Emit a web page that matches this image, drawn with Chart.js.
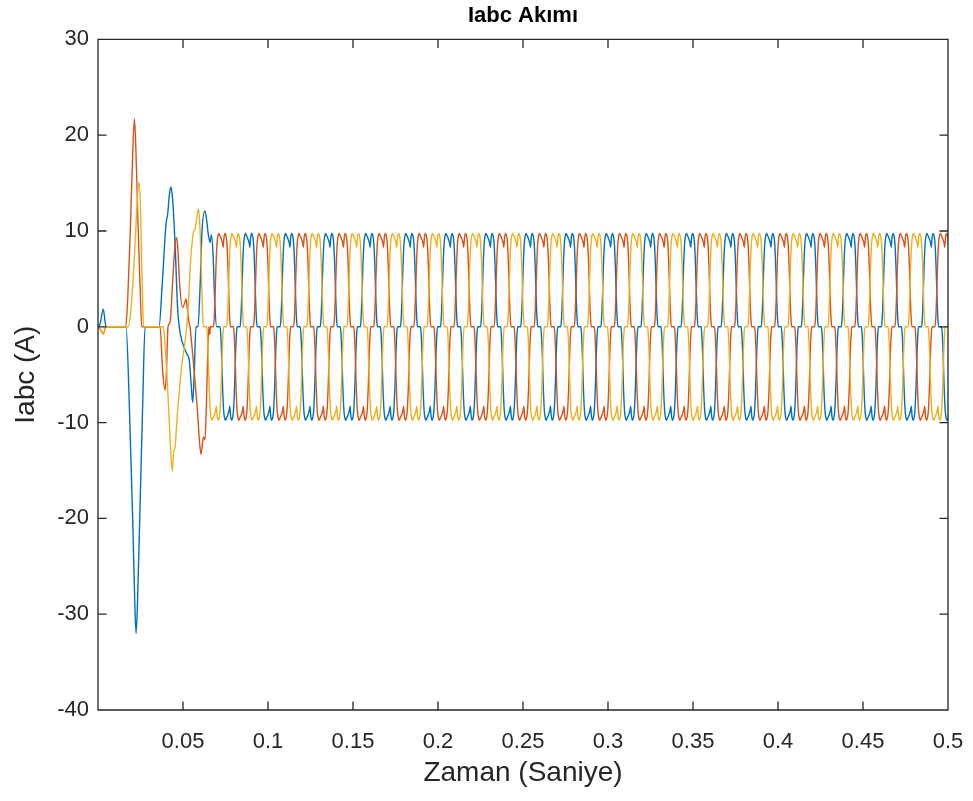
<!DOCTYPE html>
<html>
<head>
<meta charset="utf-8">
<script src="https://cdn.jsdelivr.net/npm/chart.js@4.4.1/dist/chart.umd.min.js"></script>
<style>
html,body{margin:0;padding:0;background:#ffffff;}
#wrap{width:973px;height:801px;position:relative;}
</style>
</head>
<body>
<div id="wrap"><canvas id="c" width="973" height="801"></canvas></div>
<script>
// ---------------- data ----------------
const xTickValues = [0.05, 0.1, 0.15, 0.2, 0.25, 0.3, 0.35, 0.4, 0.45, 0.5];
const yTickValues = [-40, -30, -20, -10, 0, 10, 20, 30];
const seriesNames = ['Ia', 'Ib', 'Ic'];

// start-up transient of each phase (time s, current A)
const blueT = [0, 0.0012, 0.0031, 0.0042, 0.0048, 0.0165, 0.0184, 0.0204, 0.0216, 0.0224, 0.0232, 0.0247, 0.0263, 0.0277,
  0.0359, 0.0378, 0.0400, 0.0410, 0.0420, 0.0429, 0.0438, 0.0447, 0.0457, 0.0468, 0.0478, 0.0494, 0.0522, 0.0537, 0.0548,
  0.0557, 0.0566, 0.0576, 0.0588, 0.0600, 0.0612, 0.0629, 0.0640, 0.0650, 0.0659, 0.0667, 0.0677, 0.0687, 0.0698];
const blueV = [0, 0.3, 1.85, 0.5, 0, 0, -8, -20, -28.5, -32, -29, -19, -8, 0,
  0, 4.5, 10.7, 11.8, 13.8, 14.6, 13.5, 11, 7, 2, 0, -1.5, -2.8, -3.5, -6,
  -7.9, -5, 0, 0, 4, 10, 12.1, 11, 9.5, 8.8, 9.6, 7.5, 2.5, 0];

const orangeT = [0, 0.0015, 0.0031, 0.0042, 0.0048, 0.0163, 0.0175, 0.0190, 0.0203, 0.0214, 0.0222, 0.0235, 0.0248, 0.0257,
  0.0365, 0.0380, 0.0394, 0.0402, 0.0412, 0.0424, 0.0440, 0.0453, 0.0463, 0.0470, 0.0480, 0.0498, 0.0510, 0.0518, 0.0525,
  0.0535, 0.0541, 0.0555, 0.0570, 0.0585, 0.0597, 0.0606, 0.0620, 0.0629, 0.0638, 0.0645, 0.0652];
const orangeV = [0, -0.3, -0.75, -0.2, 0, 0, 3, 10, 17.5, 21.7, 19, 11, 4, 0,
  0, -4.5, -6.6, -5, 0, 0.5, 5, 8.5, 9.3, 8, 4.5, 2.0, 2.5, 2.9, 2.0,
  0.5, 0, -2.5, -5.5, -8.8, -12, -13.3, -11.5, -11.8, -8, -3, 0];

const yellowT = [0, 0.0015, 0.0031, 0.0042, 0.0048, 0.0178, 0.0195, 0.0210, 0.0222, 0.0232, 0.0241, 0.0250, 0.0258, 0.0265, 0.0270,
  0.0384, 0.0395, 0.0410, 0.0425, 0.0437, 0.0445, 0.0453, 0.0467, 0.0492, 0.0522, 0.0530, 0.0545, 0.0561, 0.0571, 0.0582,
  0.0590, 0.0598, 0.0606, 0.0613, 0.0620];
const yellowV = [0, -0.3, -0.75, -0.2, 0, 0, 2, 6, 10, 13.5, 15.1, 12.5, 6, 1, 0,
  0, -2, -6.5, -12, -15.1, -13, -12.6, -9.1, -4.2, 0, 2, 7, 9.8, 10.2, 11.5,
  12.3, 11, 7, 2.5, 0];

// steady state: one measured current pulse (fraction of period from pulse centre, current A)
const period = 0.02358;
const pulseFrac = [-0.212, -0.195, -0.175, -0.150, -0.125, -0.100, -0.080, -0.050, -0.012, 0.015, 0.030, 0.050, 0.075, 0.100, 0.125, 0.150, 0.175, 0.195, 0.212];
const pulseVal  = [0, 0.8, 2.8, 6.2, 8.6, 9.5, 9.75, 9.5, 9.1, 8.7, 8.3, 9.3, 9.75, 9.5, 8.6, 6.2, 2.8, 0.8, 0];
// a positive pulse centre read for each phase, and where its steady state begins
const pulseCentre = [0.2065, 0.2144, 0.1986];
const steadyFrom = [0.0700, 0.0655, 0.0622];

// ---------------- build series ----------------
function buildSeries(tArr, vArr, centre, tStart) {
  const pts = tArr.map((t, i) => ({x: t, y: vArr[i]}));
  for (let k = -8; k <= 15; k++) {
    for (let h = 0; h < 2; h++) {
      const c = centre + k * period + h * period / 2;
      const s = h ? -1 : 1;
      pulseFrac.forEach((f, i) => {
        const t = c + f * period;
        if (t > tStart && t < 0.515) pts.push({x: t, y: s * pulseVal[i]});
      });
    }
  }
  pts.sort((a, b) => a.x - b.x);
  return pts;
}

const seriesData = [
  buildSeries(blueT, blueV, pulseCentre[0], steadyFrom[0]),
  buildSeries(orangeT, orangeV, pulseCentre[1], steadyFrom[1]),
  buildSeries(yellowT, yellowV, pulseCentre[2], steadyFrom[2])
];
const colors = ['#0072BD', '#D95319', '#EDB120'];

const FONT = "'Liberation Sans', Arial, Helvetica, sans-serif";
const AX = '#262626';

const boxPlugin = {
  id: 'matlabBox',
  afterDatasetsDraw(chart) {
    const {ctx, chartArea: {left, right, top, bottom}, scales: {x, y}} = chart;
    ctx.save();
    ctx.strokeStyle = AX;
    ctx.lineWidth = 1.3;
    ctx.beginPath();
    ctx.rect(left, top, right - left, bottom - top);
    const L = 8.5;
    xTickValues.forEach(v => {
      const px = x.getPixelForValue(v);
      ctx.moveTo(px, bottom); ctx.lineTo(px, bottom - L);
      ctx.moveTo(px, top); ctx.lineTo(px, top + L);
    });
    yTickValues.forEach(v => {
      const py = y.getPixelForValue(v);
      ctx.moveTo(left, py); ctx.lineTo(left + L, py);
      ctx.moveTo(right, py); ctx.lineTo(right - L, py);
    });
    ctx.stroke();
    ctx.restore();
  }
};

new Chart(document.getElementById('c').getContext('2d'), {
  type: 'line',
  data: {
    datasets: seriesData.map((d, i) => ({
      label: seriesNames[i],
      data: d,
      borderColor: colors[i],
      backgroundColor: colors[i],
      borderWidth: 1.4,
      pointRadius: 0,
      fill: false,
      cubicInterpolationMode: 'monotone',
      order: 3 - i
    }))
  },
  options: {
    responsive: false,
    animation: false,
    parsing: false,
    layout: {padding: {left: 0, right: 25, top: 0, bottom: 0}},
    plugins: {
      legend: {display: false},
      tooltip: {enabled: false},
      title: {
        display: true,
        text: 'Iabc Akımı',
        fullSize: false,
        color: '#000000',
        font: {family: FONT, size: 22, weight: 'bold'},
        padding: {top: 3, bottom: 10}
      }
    },
    scales: {
      x: {
        type: 'linear',
        min: 0, max: 0.5,
        afterBuildTicks: s => { s.ticks = xTickValues.map(v => ({value: v})); },
        afterFit: s => { s.height = 91; s.paddingRight = 0; s.paddingLeft = 0; },
        grid: {display: false, drawTicks: false},
        border: {display: false},
        ticks: {
          color: AX,
          font: {family: FONT, size: 22},
          padding: 19,
          maxRotation: 0,
          autoSkip: false,
          callback: v => String(+v.toFixed(2))
        },
        title: {
          display: true,
          text: 'Zaman (Saniye)',
          color: AX,
          font: {family: FONT, size: 28},
          padding: {top: 0, bottom: 11}
        }
      },
      y: {
        type: 'linear',
        min: -40, max: 30,
        afterBuildTicks: s => { s.ticks = yTickValues.map(v => ({value: v})); },
        afterFit: s => { s.width = 98; },
        grid: {display: false, drawTicks: false},
        border: {display: false},
        ticks: {
          color: AX,
          font: {family: FONT, size: 22},
          padding: 9,
          autoSkip: false,
          callback: v => String(v)
        },
        title: {
          display: true,
          text: 'Iabc (A)',
          color: AX,
          font: {family: FONT, size: 28},
          padding: {top: 9, bottom: 0}
        }
      }
    }
  },
  plugins: [boxPlugin]
});
</script>
</body>
</html>
